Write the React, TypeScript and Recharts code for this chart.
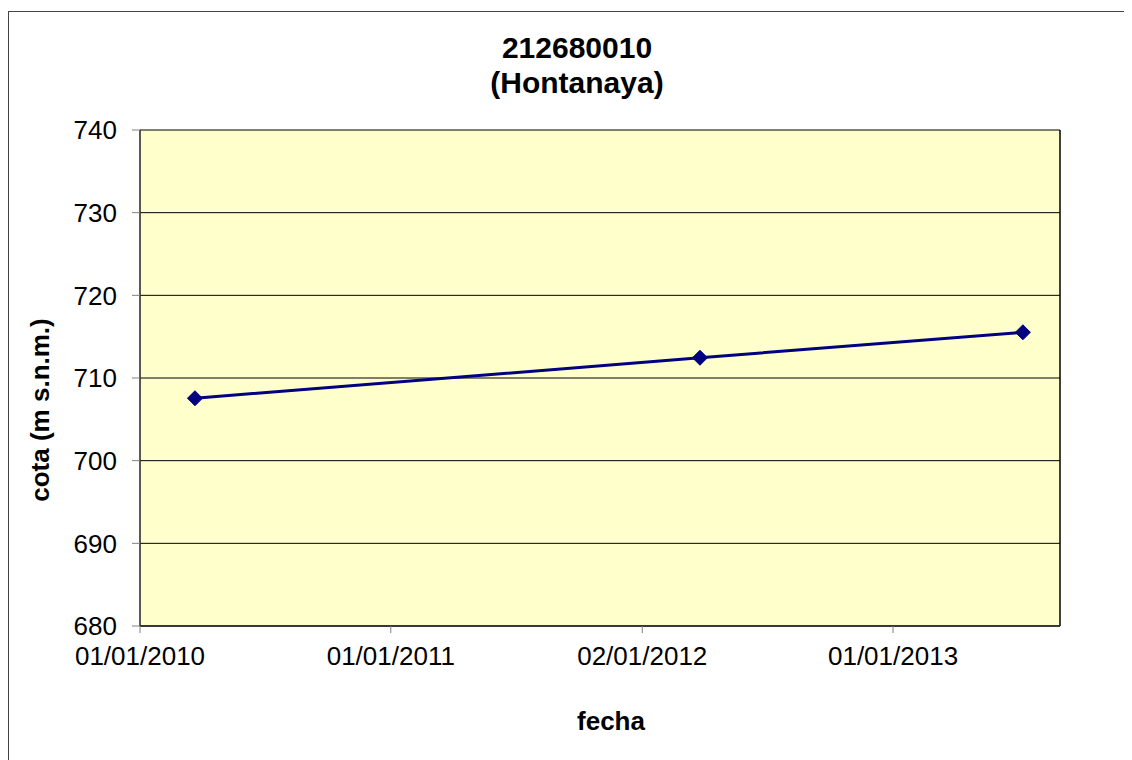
import React from "react";
import {
  LineChart,
  Line,
  XAxis,
  YAxis,
  CartesianGrid,
  ReferenceLine,
} from "recharts";

// Excel serial day numbers of the observation dates
const dates = [40259, 40994, 41464];
const cota = [707.55, 712.45, 715.53];

const xTicks = [40179, 40544, 40910, 41275];
const xTickLabels = ["01/01/2010", "01/01/2011", "02/01/2012", "01/01/2013"];
const xDomain = [40179, 41518];

const yTicks = [680, 690, 700, 710, 720, 730, 740];

const titleLines = ["212680010", "(Hontanaya)"];
const xTitle = "fecha";
const yTitle = "cota (m s.n.m.)";

const data = dates.map((d, i) => ({ fecha: d, cota: cota[i] }));

const FONT = "'Liberation Sans', Arial, sans-serif";
const NAVY = "#000080";

const Diamond = (props: any) => {
  const { cx, cy } = props;
  if (cx == null || cy == null) return null;
  const r = 7.5;
  return (
    <polygon
      points={`${cx},${cy - r} ${cx + r},${cy} ${cx},${cy + r} ${cx - r},${cy}`}
      fill={NAVY}
      stroke={NAVY}
      strokeWidth={1}
    />
  );
};

const YTitle = () => {
  const x = 32;
  const y = 402;
  return (
    <text
      x={x}
      y={y}
      transform={`rotate(-90 ${x} ${y})`}
      textAnchor="middle"
      dominantBaseline="central"
      fontFamily={FONT}
      fontWeight="bold"
      fontSize={26}
      fill="#000"
    >
      {yTitle}
    </text>
  );
};

const XTitle = () => {
  return (
    <text
      x={603}
      y={722}
      textAnchor="middle"
      fontFamily={FONT}
      fontWeight="bold"
      fontSize={26}
      fill="#000"
    >
      {xTitle}
    </text>
  );
};

export default function App() {
  const labelFor = (v: number) => {
    const i = xTicks.indexOf(v);
    return i >= 0 ? xTickLabels[i] : "";
  };
  return (
    <div style={{ position: "relative", width: 1124, height: 752, background: "#fff" }}>
      <div
        style={{
          position: "absolute",
          left: 0,
          top: 3,
          width: 1124,
          height: 749,
          borderLeft: "1px solid #444",
          borderTop: "1px solid #444",
          boxSizing: "border-box",
        }}
      />
      <div
        style={{
          position: "absolute",
          left: 369,
          top: 22,
          width: 400,
          textAlign: "center",
          fontFamily: FONT,
          fontWeight: "bold",
          fontSize: 30,
          lineHeight: "35px",
          color: "#000",
          zIndex: 2,
        }}
      >
        {titleLines.map((t) => (
          <div key={t}>{t}</div>
        ))}
      </div>
      <div style={{ position: "absolute", left: 0, top: 0 }}>
        <LineChart
          width={1124}
          height={752}
          data={data}
          margin={{ top: 122, right: 72, bottom: 0, left: 0 }}
        >
          <CartesianGrid
            horizontal={true}
            vertical={false}
            stroke="#000"
            strokeWidth={1}
            fill="#FFFFCC"
            fillOpacity={1}
          />
          <XAxis
            dataKey="fecha"
            type="number"
            domain={xDomain}
            ticks={xTicks}
            tickFormatter={labelFor}
            height={134}
            tickSize={7}
            tickMargin={14}
            stroke="#000"
            axisLine={{ stroke: "#222", strokeWidth: 1.5 }}
            tickLine={{ stroke: "#808080" }}
            tick={{ fill: "#000", fontFamily: FONT, fontSize: 26 }}
            allowDataOverflow={true}
            interval={0}
            label={<XTitle />}
          />
          <YAxis
            type="number"
            domain={[680, 740]}
            ticks={yTicks}
            width={132}
            tickSize={8}
            tickMargin={15}
            stroke="#000"
            axisLine={{ stroke: "#222", strokeWidth: 1.5 }}
            tickLine={{ stroke: "#808080" }}
            tick={{ fill: "#000", fontFamily: FONT, fontSize: 26 }}
            interval={0}
            label={<YTitle />}
          />
          <ReferenceLine x={xDomain[1]} stroke="#000" strokeWidth={1.5} ifOverflow="visible" />
          <Line
            type="linear"
            dataKey="cota"
            stroke={NAVY}
            strokeWidth={3}
            dot={<Diamond />}
            activeDot={false}
            isAnimationActive={false}
          />
        </LineChart>
      </div>
    </div>
  );
}
